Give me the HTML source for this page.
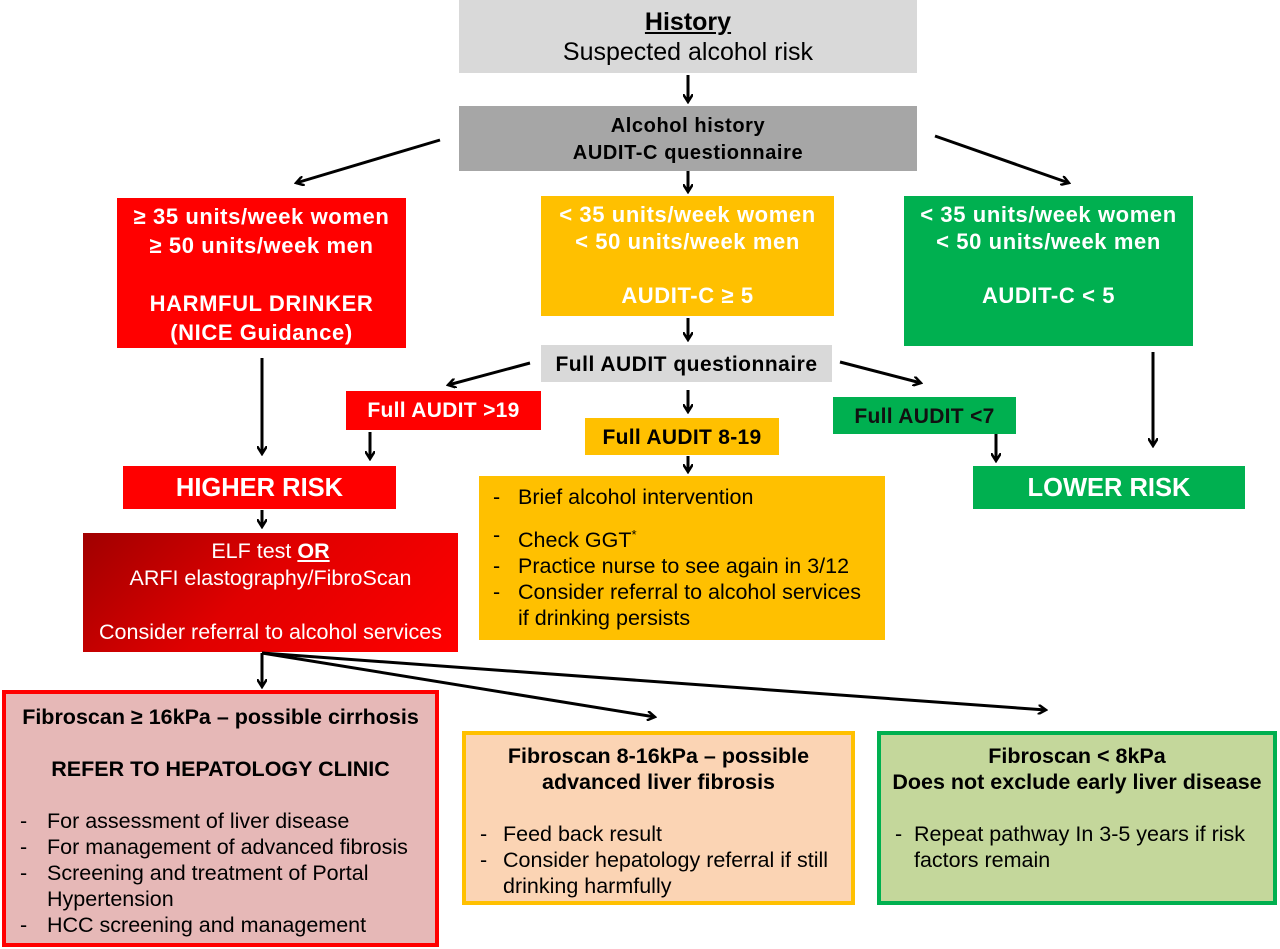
<!DOCTYPE html>
<html><head><meta charset="utf-8"><style>
body{margin:0;width:1280px;height:949px;background:#fff;position:relative;overflow:hidden;font-family:"Liberation Sans",sans-serif}
.b{position:absolute;box-sizing:border-box;text-align:center}
.w{color:#fff;font-weight:bold}
ul{margin:0;padding:0;list-style:none;text-align:left}
li{position:relative}
li:before{content:"-";position:absolute}
</style></head><body>
<div class="b" style="left:459px;top:0;width:458px;height:73px;background:#d9d9d9;font-size:25px;line-height:30px;padding-top:7px"><b><u>History</u></b><br>Suspected alcohol risk</div>
<div class="b" style="left:459px;top:106px;width:458px;height:65px;background:#a6a6a6;font-size:20px;letter-spacing:0.6px;font-weight:bold;line-height:27px;padding-top:7px">Alcohol history<br>AUDIT-C questionnaire</div>
<div class="b w" style="left:117px;top:198px;width:289px;height:150px;background:#f00;font-size:22px;letter-spacing:0.6px;line-height:29px;padding-top:4px">≥ 35 units/week women<br>≥ 50 units/week men<br><br>HARMFUL DRINKER<br>(NICE Guidance)</div>
<div class="b w" style="left:541px;top:196px;width:293px;height:120px;background:#ffc000;font-size:22px;letter-spacing:0.6px;line-height:27px;padding-top:5px">&lt; 35 units/week women<br>&lt; 50 units/week men<br><br>AUDIT-C ≥ 5</div>
<div class="b w" style="left:904px;top:196px;width:289px;height:150px;background:#00b050;font-size:22px;letter-spacing:0.6px;line-height:27px;padding-top:5px">&lt; 35 units/week women<br>&lt; 50 units/week men<br><br>AUDIT-C &lt; 5</div>
<div class="b" style="left:541px;top:345px;width:291px;height:37px;background:#d9d9d9;font-size:21px;letter-spacing:0.5px;font-weight:bold;line-height:39px">Full AUDIT questionnaire</div>
<div class="b w" style="left:346px;top:391px;width:195px;height:39px;background:#f00;font-size:21px;letter-spacing:0.3px;line-height:40px">Full AUDIT &gt;19</div>
<div class="b" style="left:585px;top:418px;width:194px;height:37px;background:#ffc000;font-size:21px;letter-spacing:0.3px;font-weight:bold;line-height:40px">Full AUDIT 8-19</div>
<div class="b w" style="left:833px;top:397px;width:183px;height:37px;background:#00b050;font-size:21px;letter-spacing:0.3px;line-height:40px;color:#111">Full AUDIT &lt;7</div>
<div class="b w" style="left:123px;top:466px;width:273px;height:43px;background:#f00;font-size:25.5px;line-height:45px">HIGHER RISK</div>
<div class="b w" style="left:973px;top:466px;width:272px;height:43px;background:#00b050;font-size:25.5px;line-height:45px">LOWER RISK</div>
<div class="b" style="left:479px;top:476px;width:406px;height:164px;background:#ffc000;font-size:21.5px;line-height:26px;padding-top:8px">
<ul><li style="padding-left:39px">Brief alcohol intervention</li><li style="padding-left:39px;margin-top:12px">Check GGT<sup style="font-size:13px">*</sup></li><li style="padding-left:39px">Practice nurse to see again in 3/12</li><li style="padding-left:39px">Consider referral to alcohol services<br>if drinking persists</li></ul>
<style>.b li:before{left:14px}</style></div>
<div class="b" style="left:83px;top:533px;width:375px;height:119px;background:linear-gradient(135deg,#a00000 0%,#e00000 45%,#f00 100%);color:#fff;font-size:21.5px;line-height:27px;padding-top:5px">ELF test <b><u>OR</u></b><br>ARFI elastography/FibroScan<br><br>Consider referral to alcohol services</div>
<div class="b" style="left:2px;top:690px;width:437px;height:257px;background:#e6b8b7;border:4px solid #f00;font-size:21.5px;line-height:26px;padding-top:10px">
<b>Fibroscan ≥ 16kPa – possible cirrhosis</b><br><br><b>REFER TO HEPATOLOGY CLINIC</b><br><br>
<ul><li style="padding-left:41px">For assessment of liver disease</li><li style="padding-left:41px">For management of advanced fibrosis</li><li style="padding-left:41px">Screening and treatment of Portal<br>Hypertension</li><li style="padding-left:41px">HCC screening and management</li></ul></div>
<div class="b" style="left:462px;top:731px;width:393px;height:174px;background:#fbd4b4;border:4px solid #ffc000;font-size:21.5px;line-height:26px;padding-top:8px">
<b>Fibroscan 8-16kPa – possible<br>advanced liver fibrosis</b><br><br>
<ul><li style="padding-left:37px">Feed back result</li><li style="padding-left:37px">Consider hepatology referral if still drinking harmfully</li></ul></div>
<div class="b" style="left:877px;top:731px;width:400px;height:174px;background:#c4d79b;border:4px solid #00b050;font-size:21.5px;line-height:26px;padding-top:8px">
<b>Fibroscan &lt; 8kPa<br>Does not exclude early liver disease</b><br><br>
<ul><li style="padding-left:33px">Repeat pathway In 3-5 years if risk<br>factors remain</li></ul></div>
<svg width="1280" height="949" style="position:absolute;left:0;top:0">
<defs><marker id="a" markerWidth="10" markerHeight="10" refX="8" refY="5" orient="auto" markerUnits="userSpaceOnUse"><path d="M0,0 L8,5 L0,10" fill="none" stroke="#000" stroke-width="2.5"/></marker></defs>
<g stroke="#000" stroke-width="3" marker-end="url(#a)">
<line x1="688" y1="75" x2="688" y2="102"/>
<line x1="440" y1="140" x2="296" y2="183"/>
<line x1="935" y1="136" x2="1069" y2="183"/>
<line x1="688" y1="171" x2="688" y2="192"/>
<line x1="688" y1="318" x2="688" y2="340"/>
<line x1="262" y1="358" x2="262" y2="454"/>
<line x1="530" y1="363" x2="448" y2="385"/>
<line x1="688" y1="390" x2="688" y2="412"/>
<line x1="840" y1="362" x2="921" y2="383"/>
<line x1="1153" y1="352" x2="1153" y2="446"/>
<line x1="370" y1="432" x2="370" y2="459"/>
<line x1="688" y1="456" x2="688" y2="472"/>
<line x1="996" y1="434" x2="996" y2="461"/>
<line x1="262" y1="510" x2="262" y2="527"/>
<line x1="262" y1="653" x2="262" y2="687"/>
<line x1="262" y1="653" x2="655" y2="717"/>
<line x1="262" y1="653" x2="1046" y2="710"/>
</g></svg>
</body></html>
